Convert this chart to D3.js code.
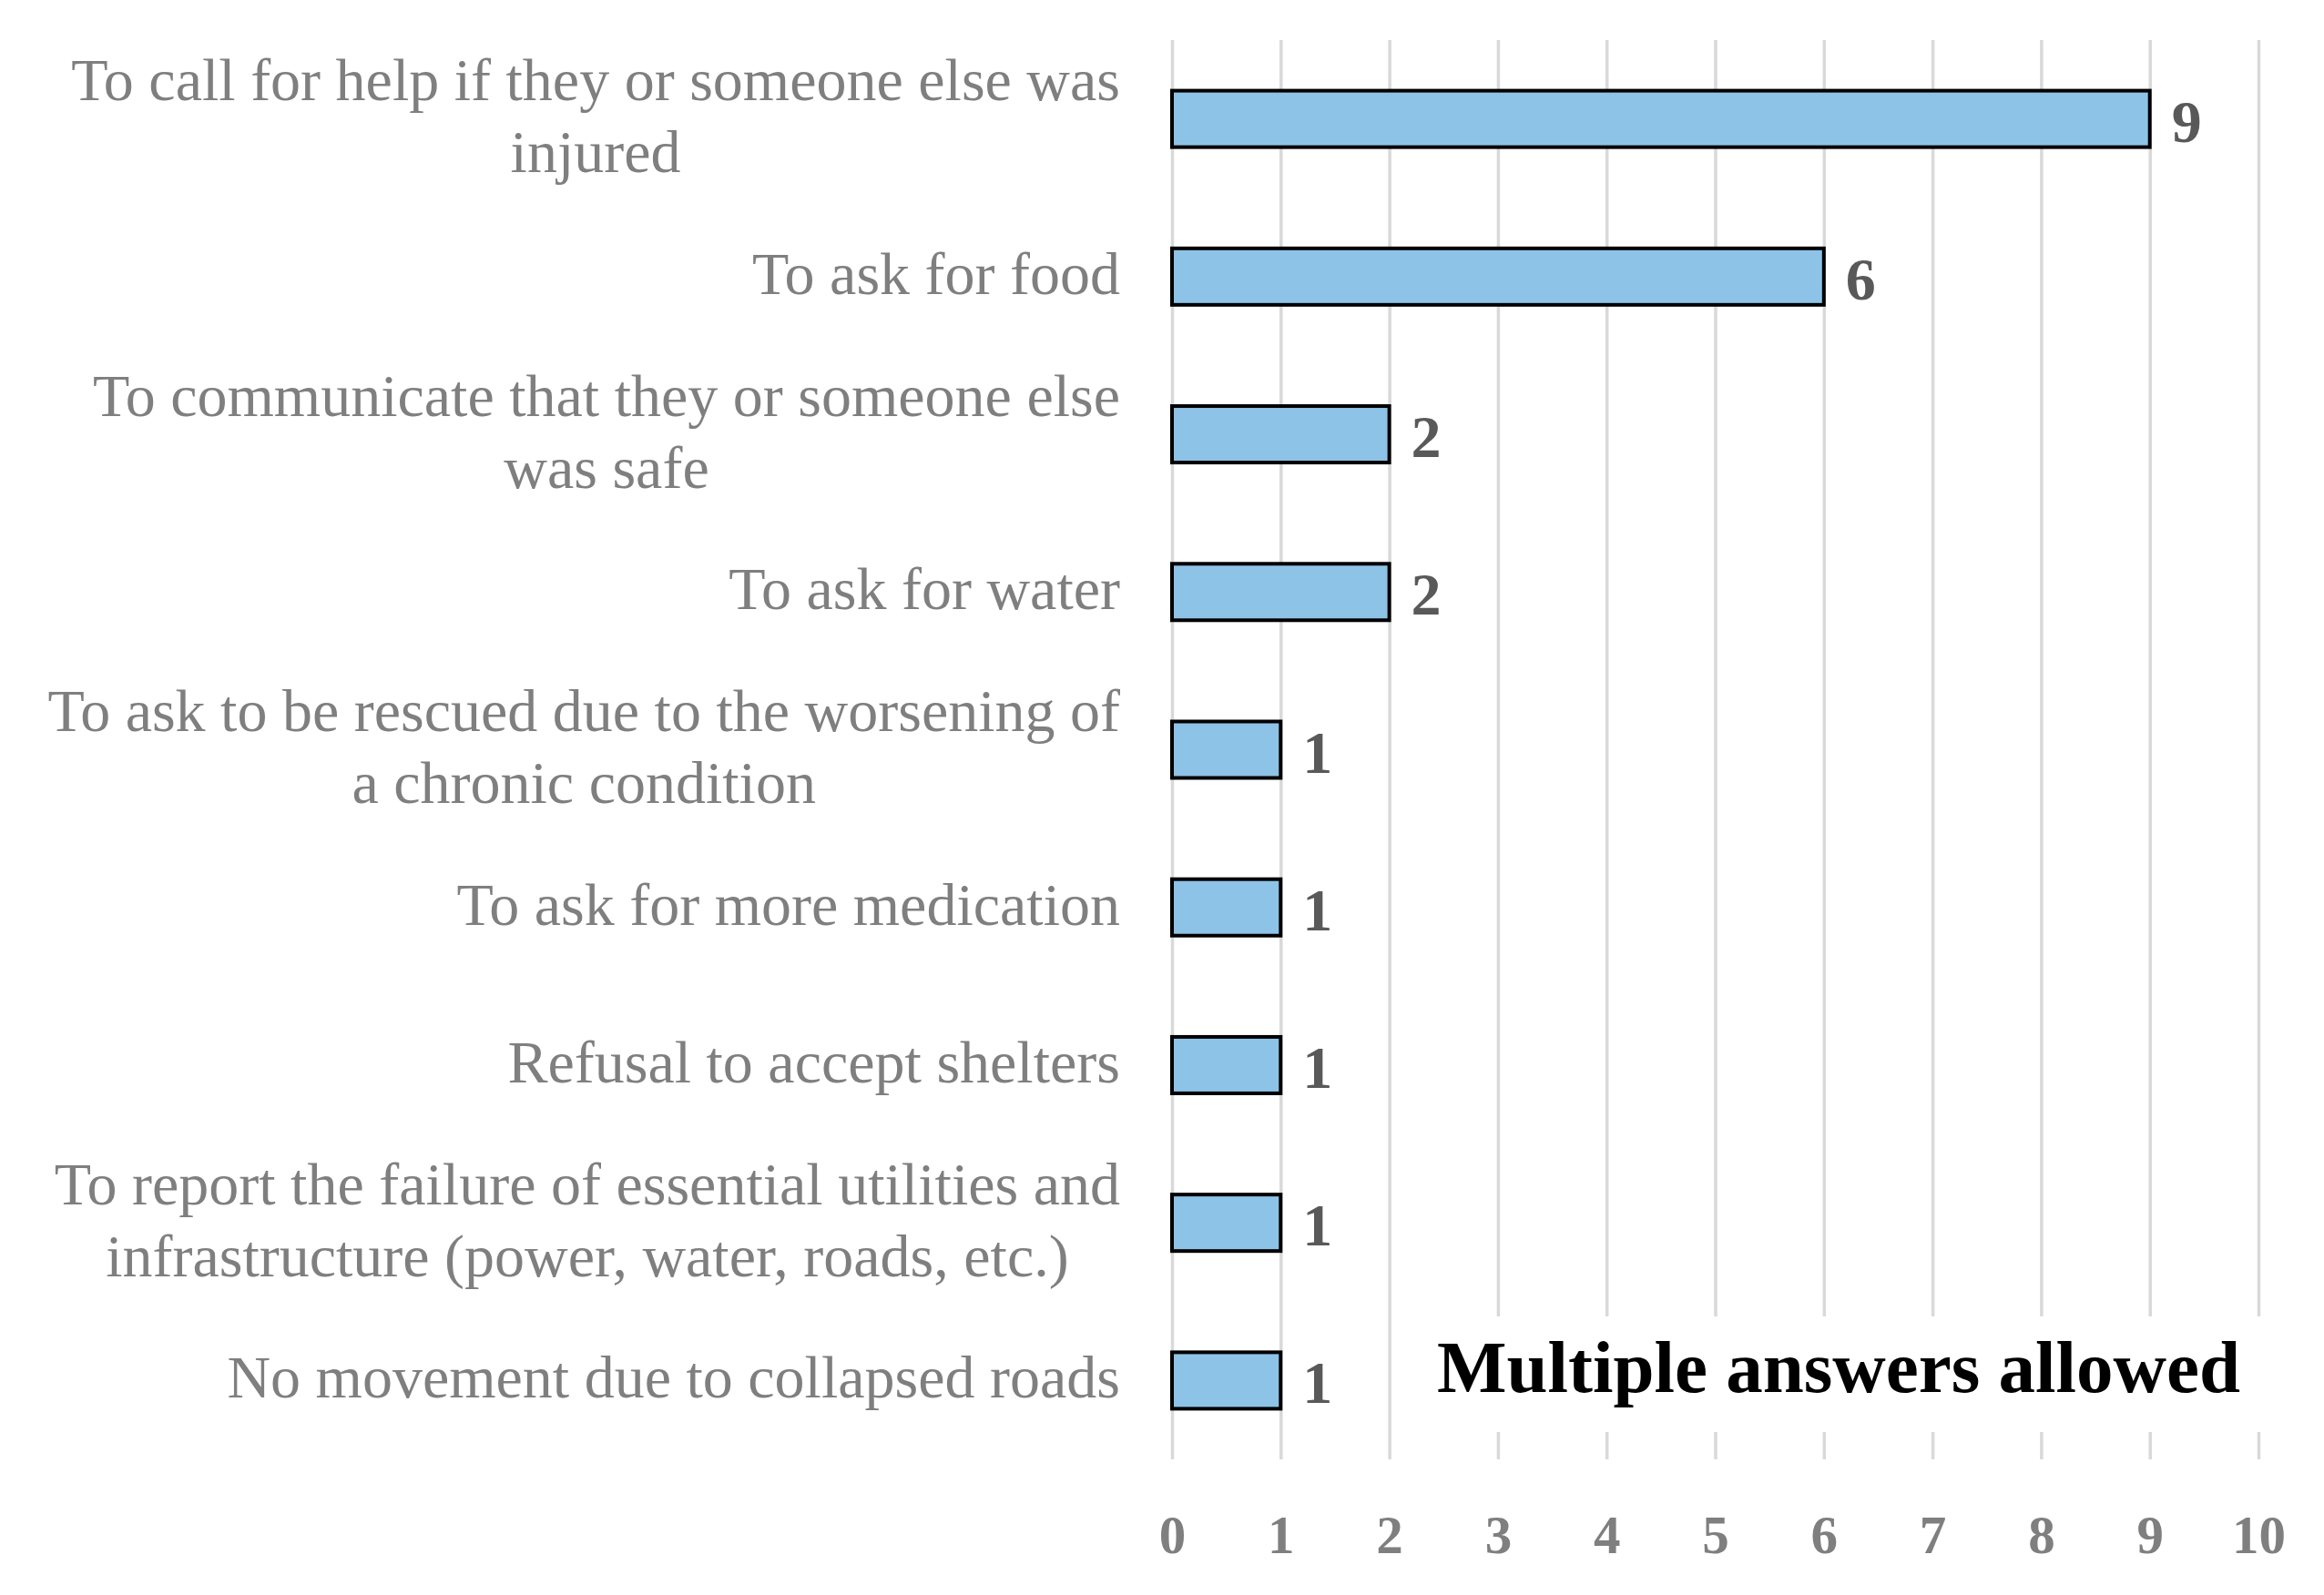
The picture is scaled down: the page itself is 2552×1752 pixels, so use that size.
<!DOCTYPE html>
<html>
<head>
<meta charset="utf-8">
<script src="https://cdn.jsdelivr.net/npm/d3@7"></script>
<style>
  body { margin: 0; background: #fff; }
  text { font-family: "Palatino Linotype", "Book Antiqua", Palatino, "Liberation Serif", serif; }
</style>
</head>
<body>
<svg id="chart"></svg>
<script>
// data (top to bottom)
var categories = [
    "To call for help if they or someone else was\ninjured",
    "To ask for food",
    "To communicate that they or someone else\nwas safe",
    "To ask for water",
    "To ask to be rescued due to the worsening of\na chronic condition",
    "To ask for more medication",
    "Refusal to accept shelters",
    "To report the failure of essential utilities and\ninfrastructure (power, water, roads, etc.)",
    "No movement due to collapsed roads"
];
var counts = [9, 6, 2, 2, 1, 1, 1, 1, 1];
var xTicks = [0, 1, 2, 3, 4, 5, 6, 7, 8, 9, 10];
var note = "Multiple answers allowed";

var width = 2552, height = 1752;
// plot area ("top" is taken by window.top, so use other names)
var plotLeft = 1287, plotRight = 2480, plotTop = 44, plotBottom = 1603;
var labelRight = 1230;

var svg = d3.select('#chart')
    .attr("width", width)
    .attr("height", height);

svg.append("rect")
    .attr("width", width)
    .attr("height", height)
    .attr("fill", "#fff");

var xScale = d3.scaleLinear()
    .domain([0, 10])
    .range([plotLeft, plotRight]);

var yScale = d3.scaleBand()
    .domain(categories)
    .range([plotTop, plotBottom])
    .paddingInner(0.642)
    .paddingOuter(0.321);

// vertical gridlines
var grid = svg.append("g")
    .attr("transform", "translate(0," + plotBottom + ")")
    .call(d3.axisBottom(xScale).tickValues(xTicks).tickSize(-(plotBottom - plotTop)).tickFormat(""));
grid.select(".domain").remove();
grid.selectAll("line")
    .attr("stroke", "#d9d9d9")
    .attr("stroke-width", 3.5);

// tick labels
var axis = svg.append("g")
    .attr("transform", "translate(0," + plotBottom + ")")
    .call(d3.axisBottom(xScale).tickValues(xTicks).tickSize(0));
axis.attr("font-family", null).attr("font-size", null);
axis.select(".domain").remove();
axis.selectAll("text")
    .attr("y", 82)
    .attr("dy", "0.35em")
    .attr("fill", "#7f7f7f")
    .style("font-size", "59px")
    .style("font-weight", "bold");

// bars
svg.selectAll("rect.bar")
    .data(counts)
    .enter()
    .append("rect")
    .attr("class", "bar")
    .attr("x", xScale(0))
    .attr("y", function(d, i) { return yScale(categories[i]); })
    .attr("width", function(d) { return xScale(d) - xScale(0); })
    .attr("height", yScale.bandwidth())
    .attr("fill", "#8dc3e6")
    .attr("stroke", "#000")
    .attr("stroke-width", 4);

// value labels
svg.selectAll("text.value")
    .data(counts)
    .enter()
    .append("text")
    .attr("class", "value")
    .attr("x", function(d) { return xScale(d) + 24; })
    .attr("y", function(d, i) { return yScale(categories[i]) + yScale.bandwidth() / 2; })
    .attr("dy", "0.38em")
    .attr("fill", "#595959")
    .style("font-size", "66px")
    .style("font-weight", "bold")
    .text(function(d) { return d; });

// category labels: block right-aligned, lines centred inside it
var lineHeight = 79;
var labels = svg.selectAll("text.cat")
    .data(categories)
    .enter()
    .append("text")
    .attr("class", "cat")
    .attr("text-anchor", "middle")
    .attr("fill", "#7f7f7f")
    .style("font-size", "66px");

labels.each(function(d) {
    var lines = d.split("\n");
    var mid = yScale(d) + yScale.bandwidth() / 2;
    var first = mid - (lines.length - 1) * lineHeight / 2 + 19;
    var t = d3.select(this);
    var spans = lines.map(function(line, k) {
        return t.append("tspan")
            .attr("y", first + k * lineHeight)
            .text(line);
    });
    var widest = d3.max(spans, function(s) { return s.node().getComputedTextLength(); });
    spans.forEach(function(s) { s.attr("x", labelRight - widest / 2); });
});

// note box over the gridlines
svg.append("rect")
    .attr("x", 1550)
    .attr("y", 1446)
    .attr("width", 950)
    .attr("height", 127)
    .attr("fill", "#fff");

svg.append("text")
    .attr("x", 1578)
    .attr("y", 1529)
    .attr("fill", "#000")
    .style("font-size", "81px")
    .style("font-weight", "bold")
    .text(note);
</script>
</body>
</html>
